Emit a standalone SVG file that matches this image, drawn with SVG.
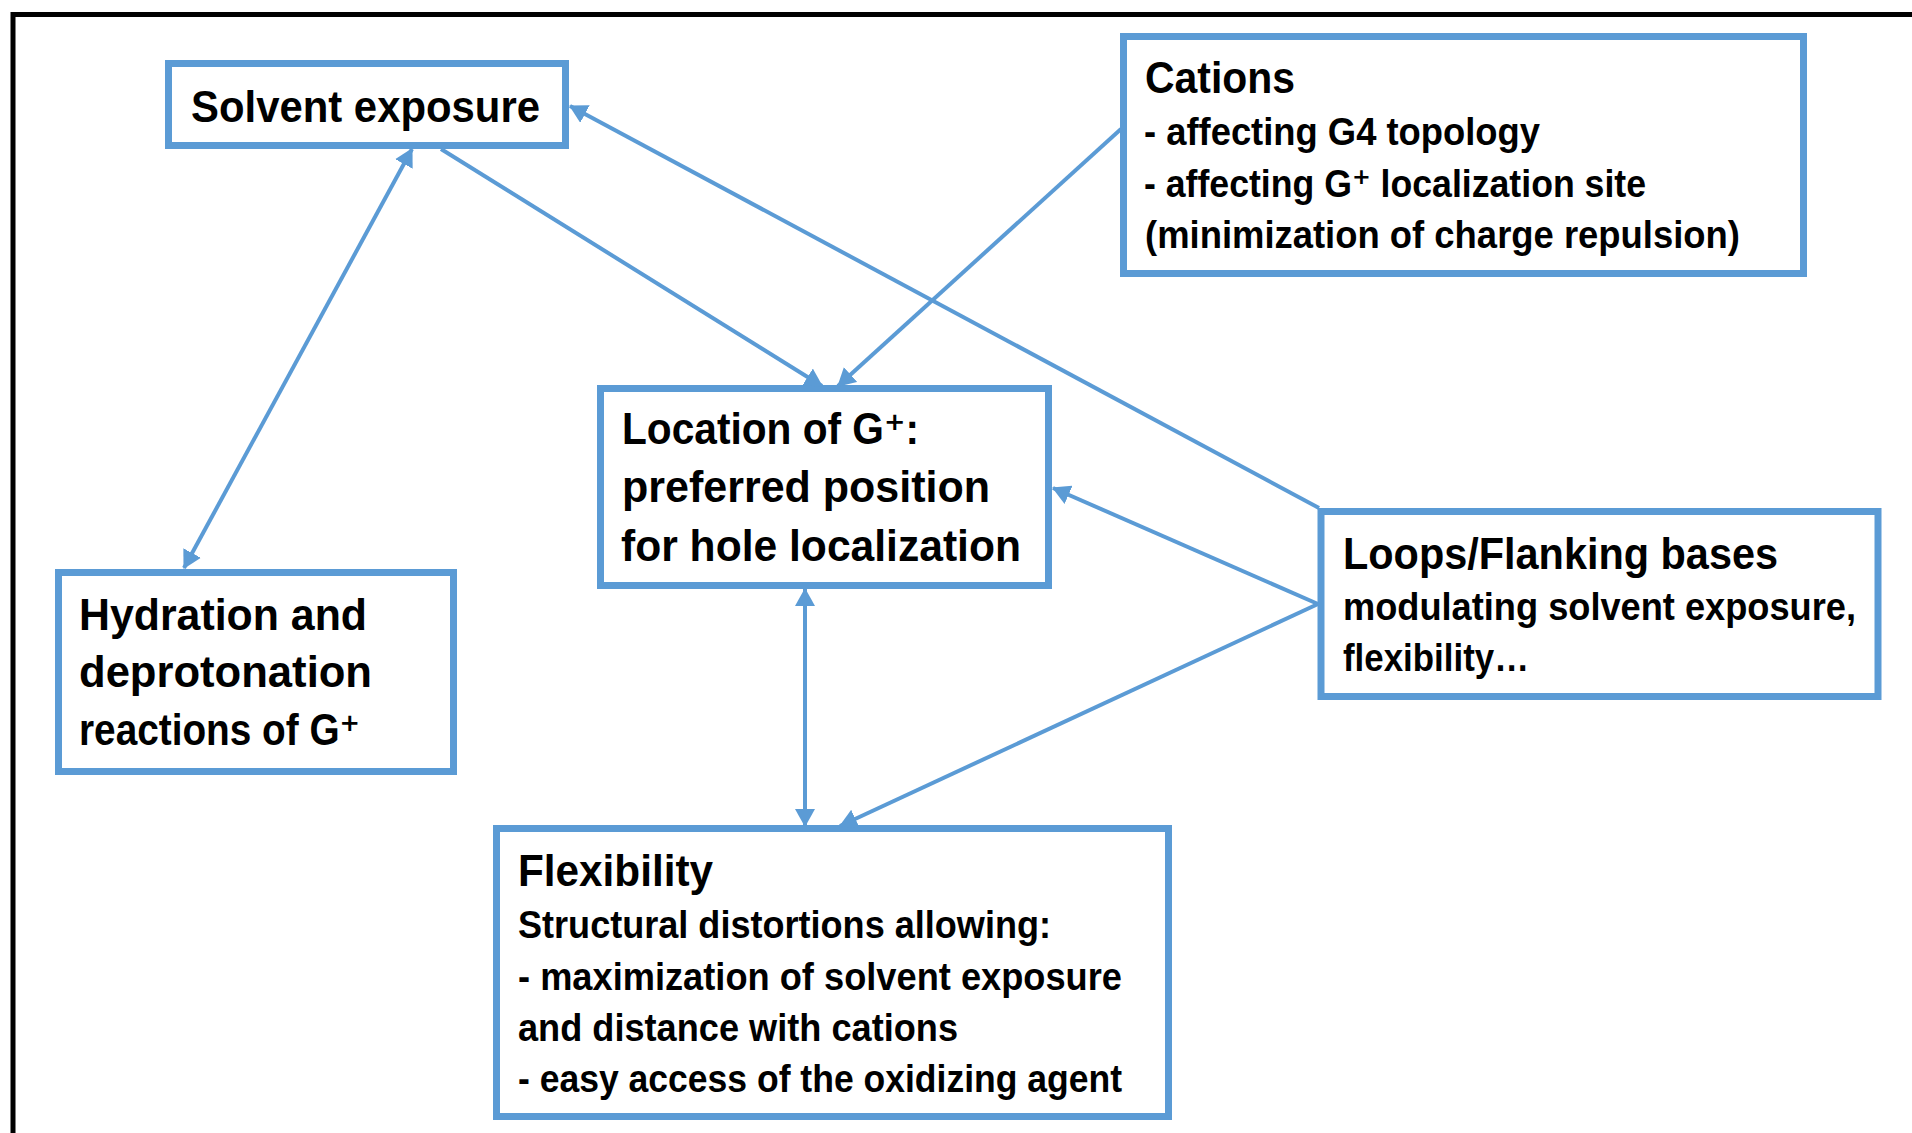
<svg xmlns="http://www.w3.org/2000/svg" width="1912" height="1133" viewBox="0 0 1912 1133">
<defs>
<style>
.box{fill:#ffffff;stroke:#5B9BD5;stroke-width:7}
.t{font-family:"Liberation Sans","DejaVu Sans",Arial,sans-serif;font-weight:bold;fill:#000000}
.big{font-size:44px}
.small{font-size:39px}
.conn{stroke:#5B9BD5;stroke-width:4;fill:none}
</style>
<marker id="ah" viewBox="0 0 18 20" refX="17" refY="10" markerWidth="18" markerHeight="20" markerUnits="userSpaceOnUse" orient="auto-start-reverse">
<path d="M0,0 L18,10 L0,20 z" fill="#5B9BD5"/>
</marker>
</defs>
<rect x="0" y="0" width="1912" height="1133" fill="#ffffff"/>
<path d="M13,1133 V14.5 H1912" fill="none" stroke="#000000" stroke-width="5"/>

<g id="solvent">
<rect class="box" x="168.5" y="63.5" width="397" height="82"/>
<text class="t big" x="191" y="122" textLength="349" lengthAdjust="spacingAndGlyphs">Solvent exposure</text>
</g>

<g id="cations">
<rect class="box" x="1123.5" y="36.5" width="680" height="237"/>
<text class="t big" x="1145" y="93" textLength="150" lengthAdjust="spacingAndGlyphs">Cations</text>
<text class="t small" x="1144" y="145" textLength="396" lengthAdjust="spacingAndGlyphs">- affecting G4 topology</text>
<text class="t small" x="1144" y="197" textLength="502" lengthAdjust="spacingAndGlyphs">- affecting G⁺ localization site</text>
<text class="t small" x="1145" y="248" textLength="595" lengthAdjust="spacingAndGlyphs">(minimization of charge repulsion)</text>
</g>

<g id="location">
<rect class="box" x="600.5" y="388.5" width="448" height="197"/>
<text class="t big" x="622" y="444" textLength="297" lengthAdjust="spacingAndGlyphs">Location of G⁺:</text>
<text class="t big" x="622" y="502" textLength="368" lengthAdjust="spacingAndGlyphs">preferred position</text>
<text class="t big" x="621" y="561" textLength="400" lengthAdjust="spacingAndGlyphs">for hole localization</text>
</g>

<g id="loops">
<rect class="box" x="1321" y="511.5" width="557" height="185"/>
<text class="t big" x="1343" y="569" textLength="435" lengthAdjust="spacingAndGlyphs">Loops/Flanking bases</text>
<text class="t small" x="1343" y="620" textLength="513" lengthAdjust="spacingAndGlyphs">modulating solvent exposure,</text>
<text class="t small" x="1343" y="671" textLength="186" lengthAdjust="spacingAndGlyphs">flexibility…</text>
</g>

<g id="hydration">
<rect class="box" x="58.5" y="572.5" width="395" height="199"/>
<text class="t big" x="79" y="630" textLength="288" lengthAdjust="spacingAndGlyphs">Hydration and</text>
<text class="t big" x="79" y="687" textLength="293" lengthAdjust="spacingAndGlyphs">deprotonation</text>
<text class="t big" x="79" y="745" textLength="281" lengthAdjust="spacingAndGlyphs">reactions of G⁺</text>
</g>

<g id="flexibility">
<rect class="box" x="496.5" y="828.5" width="672" height="288"/>
<text class="t big" x="518" y="886" textLength="195" lengthAdjust="spacingAndGlyphs">Flexibility</text>
<text class="t small" x="518" y="938" textLength="533" lengthAdjust="spacingAndGlyphs">Structural distortions allowing:</text>
<text class="t small" x="518" y="990" textLength="604" lengthAdjust="spacingAndGlyphs">- maximization of solvent exposure</text>
<text class="t small" x="518" y="1041" textLength="440" lengthAdjust="spacingAndGlyphs">and distance with cations</text>
<text class="t small" x="518" y="1092" textLength="604" lengthAdjust="spacingAndGlyphs">- easy access of the oxidizing agent</text>
</g>

<g id="connectors">
<line class="conn" x1="412" y1="149" x2="184" y2="568" marker-start="url(#ah)" marker-end="url(#ah)"/>
<line class="conn" x1="441" y1="149" x2="822" y2="386" marker-end="url(#ah)"/>
<line class="conn" x1="1121" y1="129" x2="838" y2="386" marker-end="url(#ah)"/>
<line class="conn" x1="1319" y1="508" x2="570" y2="106" marker-end="url(#ah)"/>
<line class="conn" x1="1318" y1="604" x2="1053" y2="488" marker-end="url(#ah)"/>
<line class="conn" x1="1318" y1="604" x2="840" y2="826" marker-end="url(#ah)"/>
<line class="conn" x1="805" y1="589" x2="805" y2="826" marker-start="url(#ah)" marker-end="url(#ah)"/>
</g>
</svg>
